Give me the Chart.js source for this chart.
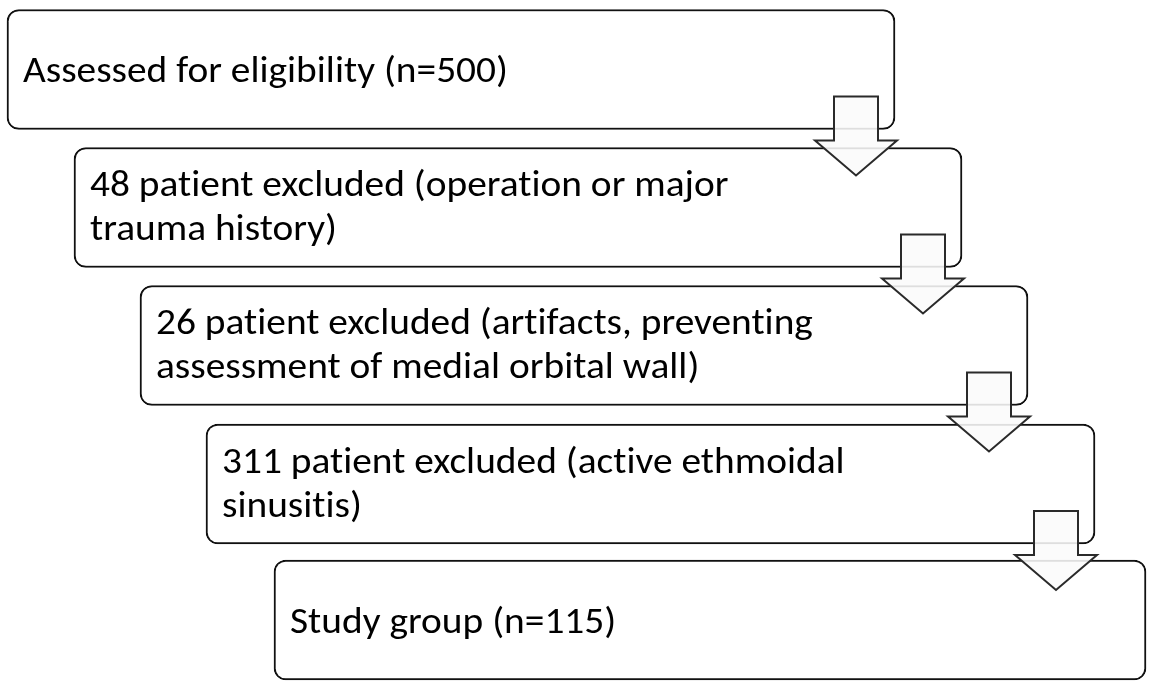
<!DOCTYPE html>
<html>
<head>
<meta charset="utf-8">
<script src="https://cdn.jsdelivr.net/npm/chart.js@4.4.1/dist/chart.umd.min.js"></script>
<style>
  html, body { margin: 0; padding: 0; background: #ffffff; }
  #wrap { width: 1156px; height: 681px; }
</style>
</head>
<body>
<div id="wrap"><canvas id="c" width="1156" height="681"></canvas></div>
<script>
// ---- data ----
const stepIds = ["assessed", "excluded1", "excluded2", "excluded3", "study"];
const counts = [500, 48, 26, 311, 115];
const stepLines = [
  ["Assessed for eligibility (n=500)"],
  ["48 patient excluded (operation or major", "trauma history)"],
  ["26 patient excluded (artifacts, preventing", "assessment of medial orbital wall)"],
  ["311 patient excluded (active ethmoidal", "sinusitis)"],
  ["Study group (n=115)"]
];
const boxStart = [7, 74, 140, 206, 274];
const boxEnd = [895, 962, 1028, 1095, 1146];
const boxRow = [69.5, 207.5, 345.5, 484, 620];

const FONT = '"Carlito", "Calibri", "Lato", sans-serif';
const FONT_SIZE = 36;

const flowPlugin = {
  id: 'flow',
  afterDatasetsDraw(chart) {
    const ctx = chart.ctx;
    const meta = chart.getDatasetMeta(0);
    const els = meta.data.map(el => el.getProps(['x', 'base', 'y', 'height'], true));

    // text
    ctx.save();
    ctx.font = FONT_SIZE + 'px ' + FONT;
    if ('letterSpacing' in ctx) ctx.letterSpacing = '0.01px'; // avoid ligatures
    ctx.fillStyle = '#000000';
    ctx.textBaseline = 'alphabetic';
    ctx.textAlign = 'left';
    const ref = ctx.measureText(stepLines[0][0]).width;
    let s = 485 / ref;
    s = Math.max(0.8, Math.min(1.2, s));
    els.forEach((e, i) => {
      const left = Math.min(e.x, e.base);
      const lines = stepLines[i];
      const first = e.y + 12.5 - (lines.length - 1) * 24;
      lines.forEach((t, k) => {
        ctx.save();
        ctx.translate(left + 16, first + k * 44);
        ctx.scale(s, 1);
        ctx.fillText(t, 0, 0);
        ctx.restore();
      });
    });
    ctx.restore();

    // arrows between consecutive boxes
    ctx.save();
    ctx.lineWidth = 2;
    ctx.lineJoin = 'miter';
    ctx.strokeStyle = '#2a2a2a';
    ctx.fillStyle = 'rgba(250,250,250,0.88)';
    for (let i = 0; i < els.length - 1; i++) {
      const e = els[i];
      const R = Math.max(e.x, e.base);
      const B = e.y + e.height / 2;
      ctx.beginPath();
      ctx.moveTo(R - 61, B - 33);
      ctx.lineTo(R - 17, B - 33);
      ctx.lineTo(R - 17, B + 11);
      ctx.lineTo(R + 2, B + 11);
      ctx.lineTo(R - 39, B + 46);
      ctx.lineTo(R - 80, B + 11);
      ctx.lineTo(R - 61, B + 11);
      ctx.closePath();
      ctx.fill();
      ctx.stroke();
    }
    ctx.restore();
  }
};

new Chart(document.getElementById('c'), {
  type: 'bar',
  data: {
    labels: stepIds,
    datasets: [{
      label: 'Flow',
      data: stepIds.map((id, i) => ({ y: boxRow[i], x: [boxStart[i], boxEnd[i]] })),
      backgroundColor: '#ffffff',
      borderColor: '#111111',
      borderWidth: 2,
      borderRadius: 12,
      borderSkipped: false,
      barThickness: 120
    }]
  },
  options: {
    indexAxis: 'y',
    responsive: false,
    animation: false,
    layout: { padding: 0 },
    plugins: {
      legend: { display: false },
      tooltip: { enabled: false }
    },
    scales: {
      x: { type: 'linear', min: 0, max: 1156, display: false, offset: false },
      y: { type: 'linear', min: 0, max: 681, reverse: true, display: false, offset: false }
    }
  },
  plugins: [flowPlugin]
});
</script>
</body>
</html>
